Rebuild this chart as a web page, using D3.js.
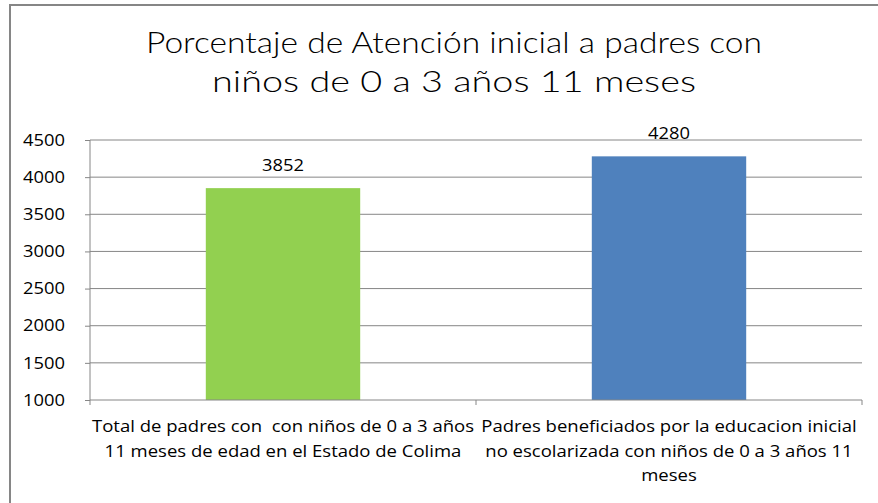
<!DOCTYPE html>
<html>
<head>
<meta charset="utf-8">
<script src="https://cdn.jsdelivr.net/npm/d3@7"></script>
<style>
  html, body { margin: 0; padding: 0; background: #fff; }
  svg { display: block; }
</style>
</head>
<body>
<svg id="chart" width="878" height="503"></svg>
<script>
// ---- data ----
const titleLines = ["Porcentaje de Atención inicial a padres con", "niños de 0 a 3 años 11 meses"];
const categories = ["Total de padres con  con niños de 0 a 3 años 11 meses de edad en el Estado de Colima",
                    "Padres beneficiados por la educacion inicial no escolarizada con niños de 0 a 3 años 11 meses"];
const categoryLines = [
  ["Total de padres con  con niños de 0 a 3 años", "11 meses de edad en el Estado de Colima"],
  ["Padres beneficiados por la educacion inicial", "no escolarizada con niños de 0 a 3 años 11", "meses"]
];
const values = [3852, 4280];
const barColors = ["#92D050", "#4F81BD"];
const yTicks = [1000, 1500, 2000, 2500, 3000, 3500, 4000, 4500];

// ---- layout ----
const svg = d3.select("#chart");
const W = 878, H = 503;
const plot = { left: 90, right: 862, top: 140, bottom: 400 };
const gridColor = "#868686";
const labelFont = "'Open Sans', 'Liberation Sans', sans-serif";
const labelSize = 16.5;

// frame
svg.append("rect")
  .attr("x", 10).attr("y", 5)
  .attr("width", W + 20).attr("height", H + 20)
  .attr("fill", "#fff").attr("stroke", gridColor).attr("stroke-width", 2);

const x = d3.scaleBand().domain(categories).range([plot.left, plot.right])
  .paddingInner(0.6).paddingOuter(0.3);
const y = d3.scaleLinear().domain([1000, 4500]).range([plot.bottom, plot.top]);

// stretch a text group horizontally by k
function stretch(sel, k) {
  sel.each(function() {
    const n = this.getComputedTextLength();
    d3.select(this).attr("textLength", n * k).attr("lengthAdjust", "spacingAndGlyphs");
  });
}
function kFor(node, target) { return target / node.getComputedTextLength(); }

// title
const title = svg.append("g").attr("class", "title");
const titleTargets = [616, 484];
title.selectAll("text").data(titleLines).join("text")
  .attr("x", 454).attr("y", (d, i) => 53 + i * 39)
  .attr("text-anchor", "middle")
  .attr("font-family", "Lato, 'DejaVu Sans', sans-serif")
  .attr("font-weight", 300)
  .attr("font-size", 30)
  .attr("fill", "#000")
  .text(d => d)
  .each(function(d, i) {
    d3.select(this).attr("textLength", titleTargets[i]).attr("lengthAdjust", "spacingAndGlyphs");
  });

// y axis
const yAxis = d3.axisLeft(y).tickValues(yTicks).tickSize(5).tickPadding(20).tickFormat(d3.format("d"));
const gy = svg.append("g").attr("transform", `translate(${plot.left},0)`).call(yAxis);
gy.select(".domain").attr("stroke", gridColor).attr("d", `M0,${plot.top}V${plot.bottom}`);
gy.selectAll(".tick line").attr("stroke", gridColor);
const tickTexts = gy.selectAll(".tick text")
  .attr("font-family", labelFont).attr("font-size", labelSize).attr("fill", "#000");
const kNum = kFor(tickTexts.node(), 42);
stretch(tickTexts, kNum);

// gridlines
svg.append("g").selectAll("line").data(yTicks.filter(t => t !== 1000)).join("line")
  .attr("x1", plot.left).attr("x2", plot.right)
  .attr("y1", d => y(d)).attr("y2", d => y(d))
  .attr("stroke", gridColor).attr("stroke-width", 1);

// bars
svg.append("g").selectAll("rect").data(values).join("rect")
  .attr("x", (d, i) => x(categories[i]))
  .attr("width", x.bandwidth())
  .attr("y", d => y(d))
  .attr("height", d => y(1000) - y(d))
  .attr("fill", (d, i) => barColors[i]);

// x axis
const xAxis = d3.axisBottom(x).tickSize(0).tickFormat("");
const gx = svg.append("g").attr("transform", `translate(0,${plot.bottom})`).call(xAxis);
gx.select(".domain").attr("stroke", gridColor).attr("d", `M${plot.left},0H${plot.right}`);
const xBounds = [plot.left, plot.left + x.step(), plot.right];
gx.selectAll(".bound").data(xBounds).join("line").attr("class", "bound")
  .attr("x1", d => d).attr("x2", d => d).attr("y1", 0).attr("y2", 5)
  .attr("stroke", gridColor);

// data labels
const dl = svg.append("g").selectAll("text").data(values).join("text")
  .attr("x", (d, i) => x(categories[i]) + x.bandwidth() / 2)
  .attr("y", d => y(d) - 17)
  .attr("text-anchor", "middle")
  .attr("font-family", labelFont).attr("font-size", labelSize).attr("fill", "#000")
  .text(d => d);
stretch(dl, kNum);

// category labels
const cl = svg.append("g");
const catTexts = [];
categoryLines.forEach((lines, i) => {
  const cx = x(categories[i]) + x.bandwidth() / 2;
  const t = cl.append("g").selectAll("text").data(lines).join("text")
    .attr("x", cx).attr("y", (d, j) => 432 + j * 24.5)
    .attr("text-anchor", "middle")
    .attr("font-family", labelFont).attr("font-size", labelSize).attr("fill", "#000")
    .style("white-space", "pre")
    .text(d => d);
  catTexts.push(t);
});
const kCat = kFor(catTexts[0].node(), 382);
catTexts.forEach(t => stretch(t, kCat));
</script>
</body>
</html>
